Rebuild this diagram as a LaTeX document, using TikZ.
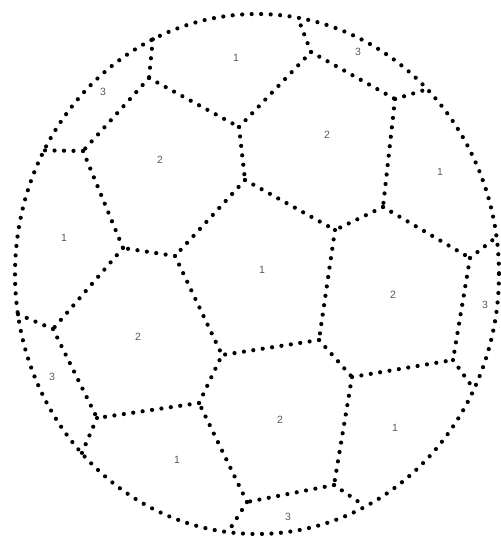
\documentclass[tikz,border=0pt]{standalone}
\usepackage{fontspec}
\setmainfont{Liberation Sans}
\begin{document}
\begin{tikzpicture}[x=1pt,y=-1pt,
  dotline/.style={line width=4.2pt, line cap=round, dash pattern=on 0pt off 9.5pt, color=black},
  lbl/.style={font=\fontsize{10.5}{12}\selectfont, text=black!65, inner sep=0pt}]
\useasboundingbox (0,0) rectangle (500,540);
% boundary points on the outer ellipse
\coordinate (c0) at (257,274);
\foreach \n/\t in {b1/115.5,b2/80.3,b3/45.3,b4/8.2,b5/-26.3,b6/-63.4,b7/263.1,b8/223.6,b9/188.9,b10/151.6}
  \coordinate (\n) at ({257+242*cos(\t)},{274-260*sin(\t)});
% inner vertices
\coordinate (B) at (149,78);
\coordinate (T) at (311,52);
\coordinate (R) at (395,99);
\coordinate (D) at (239,127);
\coordinate (C) at (83,151);
\coordinate (E) at (245,180);
\coordinate (Q) at (383,207);
\coordinate (S) at (335,230);
\coordinate (U) at (470,258);
\coordinate (K) at (123,248);
\coordinate (L) at (175,256);
\coordinate (J) at (53,329);
\coordinate (M) at (222,355);
\coordinate (F) at (319,340);
\coordinate (G) at (352,377);
\coordinate (H) at (453,360);
\coordinate (P) at (97,418);
\coordinate (N) at (199,403);
\coordinate (I) at (334,485);
\coordinate (O) at (247,502);
% outer ball
\draw[dotline] (c0) ellipse [x radius=242, y radius=260];
% seams
\foreach \a/\b in {b1/B,B/C,B/D,C/b10,C/K,D/E,D/T,T/b2,T/R,R/b3,R/Q,Q/S,Q/U,U/b4,U/H,
  E/S,E/L,L/K,L/M,K/J,J/b9,J/P,S/F,F/M,F/G,G/H,H/b5,G/I,I/b6,I/O,O/b7,O/N,N/M,N/P,P/b8}
  \draw[dotline] (\a) -- (\b);
% labels
\node[lbl] (l1) at (236,58) {1};
\node[lbl] (l2) at (103,92) {3};
\node[lbl] (l3) at (160,160) {2};
\node[lbl] (l4) at (64,238) {1};
\node[lbl] (l5) at (358,52) {3};
\node[lbl] (l6) at (327,135) {2};
\node[lbl] (l7) at (440,172) {1};
\node[lbl] (l8) at (262,270) {1};
\node[lbl] (l9) at (393,295) {2};
\node[lbl] (l10) at (485,305) {3};
\node[lbl] (l11) at (138,337) {2};
\node[lbl] (l12) at (52,377) {3};
\node[lbl] (l13) at (177,460) {1};
\node[lbl] (l14) at (280,420) {2};
\node[lbl] (l15) at (395,428) {1};
\node[lbl] (l16) at (288,517) {3};
\end{tikzpicture}
\end{document}
